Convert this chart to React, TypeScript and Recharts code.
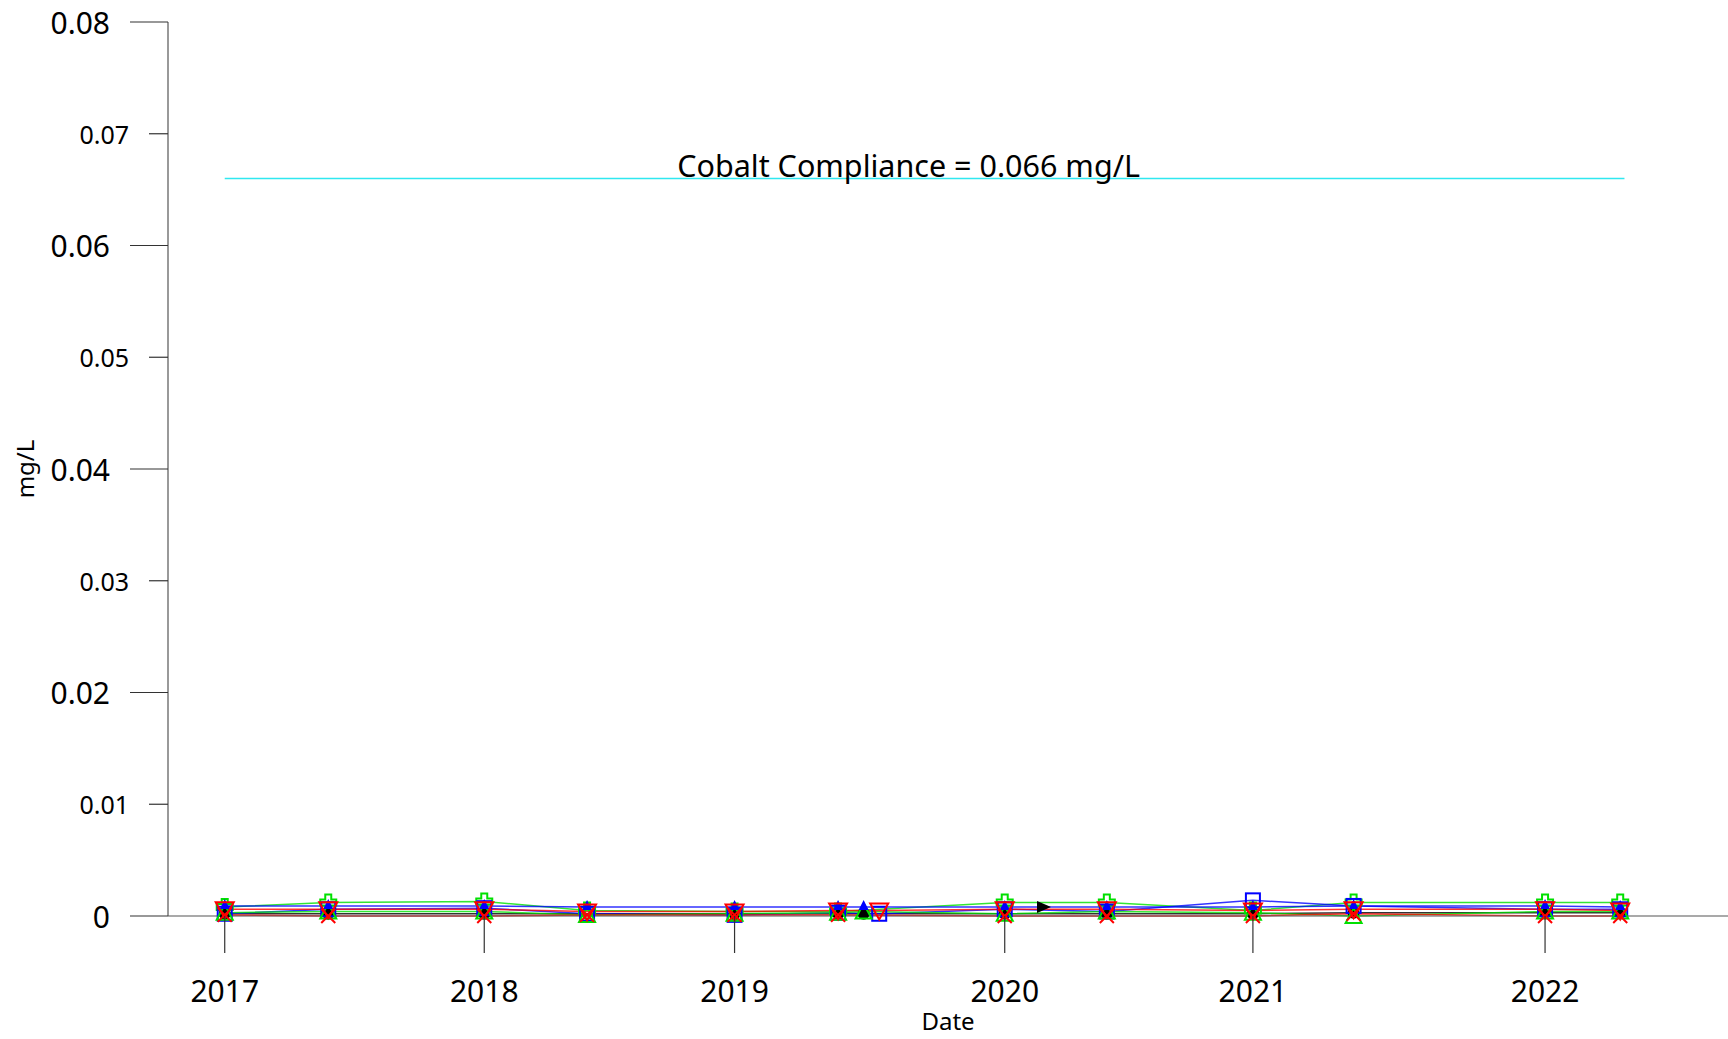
import { ComposedChart, Line, XAxis, YAxis, ReferenceLine } from "recharts";

// sample dates (one row per sampling event)
const sampleDates = [
  "2017-01-19", "2017-06-14", "2018-01-20", "2018-06-14", "2019-01-08",
  "2019-06-03", "2019-07-09", "2019-07-31", "2020-01-24", "2020-03-18",
  "2020-06-16", "2021-01-08", "2021-05-30", "2022-02-24", "2022-06-10",
];

const yearTickDates = ["2017-01-19", "2018-01-20", "2019-01-08", "2020-01-24", "2021-01-08", "2022-02-24"];
const yearLabels = ["2017", "2018", "2019", "2020", "2021", "2022"];

const yTicks = [0, 0.01, 0.02, 0.03, 0.04, 0.05, 0.06, 0.07, 0.08];

// cobalt results, mg/L (null = not sampled)
const wellGreenPlus = [0.0008, 0.0012, 0.0013, 0.0005, 0.0004, 0.0004, null, null, 0.0012, null, 0.0012, 0.0005, 0.0012, 0.0012, 0.0012];
const wellBlackCircle = [0.0002, 0.0002, 0.0002, null, 0.0002, 0.0002, 0.0002, null, 0.0002, null, 0.0002, 0.0002, 0.0003, 0.0003, 0.0003];
const wellBlueSquare = [0.0002, 0.0006, 0.0007, 0.0002, 0.0001, 0.0003, null, 0.0002, 0.0006, null, 0.0004, 0.0014, 0.0009, 0.0006, 0.0006];
const wellGreenTri = [0.0003, 0.0004, 0.0004, 0.0001, 0.0002, 0.0003, 0.0004, null, 0.0002, null, 0.0004, 0.0003, 0.0, 0.0004, 0.0004];
const wellBlueTri = [0.0009, 0.0009, 0.0009, 0.0008, 0.0008, 0.0008, 0.0008, null, 0.0008, null, 0.0008, 0.0008, 0.0009, 0.0009, 0.0008];
const wellRedX = [0.0001, 0.0, 0.0, 0.0001, 0.0001, 0.0001, null, null, 0.0, null, 0.0, 0.0, 0.0002, 0.0, 0.0];
const wellBlackArrow = [null, null, null, null, null, null, null, null, null, 0.0008, null, null, null, null, null];
const wellRedInvTri = [0.0006, 0.0006, 0.0006, 0.0004, 0.0004, 0.0005, null, 0.0005, 0.0006, null, 0.0006, 0.0005, 0.0006, 0.0006, 0.0005];

const complianceValue = 0.066;
const complianceSpan = ["2017-01-19", "2022-06-16"];
const xDomain = ["2016-10-31", "2022-11-09"];

const rows = sampleDates.map((d, i) => ({
  t: Date.parse(d),
  gp: wellGreenPlus[i],
  bc: wellBlackCircle[i],
  bs: wellBlueSquare[i],
  gt: wellGreenTri[i],
  bt: wellBlueTri[i],
  rx: wellRedX[i],
  ba: wellBlackArrow[i],
  ri: wellRedInvTri[i],
}));

const FONT = "'Noto Sans', sans-serif";

type Shape = "plus" | "circle" | "square" | "tri" | "smallTri" | "x" | "arrow" | "invTri";

function marker(shape: Shape, color: string) {
  return (p: any) => {
    const { cx, cy, index } = p;
    const k = `${shape}-${index}`;
    if (cx == null || cy == null || p.value == null) return <g key={k} />;
    switch (shape) {
      case "plus": {
        const s = 8, a = 3;
        const d = `M${cx - a},${cy - s}H${cx + a}V${cy - a}H${cx + s}V${cy + a}H${cx + a}V${cy + s}H${cx - a}V${cy + a}H${cx - s}V${cy - a}H${cx - a}Z`;
        return <path key={k} d={d} fill="none" stroke={color} strokeWidth={2} />;
      }
      case "circle":
        return <circle key={k} cx={cx} cy={cy} r={6} fill={color} />;
      case "square":
        return <rect key={k} x={cx - 7} y={cy - 7} width={14} height={14} fill="none" stroke={color} strokeWidth={2} />;
      case "tri":
        return <path key={k} d={`M${cx},${cy - 8}L${cx + 8},${cy + 7}L${cx - 8},${cy + 7}Z`} fill="none" stroke={color} strokeWidth={2} />;
      case "smallTri":
        return <path key={k} d={`M${cx},${cy - 7}L${cx + 5},${cy + 3}L${cx - 5},${cy + 3}Z`} fill={color} />;
      case "x":
        return (
          <path key={k} d={`M${cx - 7},${cy - 7}L${cx + 7},${cy + 7}M${cx + 7},${cy - 7}L${cx - 7},${cy + 7}`} stroke={color} strokeWidth={2} />
        );
      case "arrow":
        return <path key={k} d={`M${cx - 6},${cy - 6}L${cx + 8},${cy}L${cx - 6},${cy + 6}Z`} fill={color} />;
      case "invTri":
        return <path key={k} d={`M${cx - 9},${cy - 7}L${cx + 9},${cy - 7}L${cx},${cy + 9}Z`} fill="none" stroke={color} strokeWidth={2} />;
    }
    return <g key={k} />;
  };
}

const YTick = (p: any) => {
  const { x, y, payload } = p;
  const v: number = payload.value;
  const major = Math.round(v * 100) % 2 === 0;
  const len = major ? 38 : 19;
  return (
    <g>
      <line x1={x - len} x2={x} y1={y} y2={y} stroke="#333" strokeWidth={1.2} />
      <text
        x={x - len - 20}
        y={y}
        textAnchor="end"
        dominantBaseline="central"
        fontFamily={FONT}
        fontSize={major ? 30 : 25}
        fill="#000"
      >
        {v === 0 ? "0" : v.toFixed(2)}
      </text>
    </g>
  );
};

const XTick = (p: any) => {
  const { x, y, index } = p;
  return (
    <g>
      <line x1={x} x2={x} y1={y} y2={y + 37} stroke="#333" strokeWidth={1.2} />
      <text x={x} y={y + 74} textAnchor="middle" dominantBaseline="central" fontFamily={FONT} fontSize={30} fill="#000">
        {yearLabels[index]}
      </text>
    </g>
  );
};

const series: { key: string; color: string; shape: Shape }[] = [
  { key: "gp", color: "#00e000", shape: "plus" },
  { key: "bc", color: "#000000", shape: "circle" },
  { key: "bs", color: "#0000ff", shape: "square" },
  { key: "gt", color: "#00e000", shape: "tri" },
  { key: "bt", color: "#0000ff", shape: "smallTri" },
  { key: "rx", color: "#ff0000", shape: "x" },
  { key: "ba", color: "#000000", shape: "arrow" },
  { key: "ri", color: "#ff0000", shape: "invTri" },
];

export default function App() {
  return (
    <div style={{ position: "absolute", left: 0, top: 0, width: 1728, height: 1039, background: "#fff" }}>
      <ComposedChart width={1728} height={1039} data={rows} margin={{ top: 22, right: 0, left: 0, bottom: 0 }}>
        <XAxis
          dataKey="t"
          type="number"
          domain={xDomain.map((d) => Date.parse(d))}
          ticks={yearTickDates.map((d) => Date.parse(d))}
          allowDataOverflow
          height={123}
          tickSize={0}
          tickMargin={0}
          tick={<XTick />}
          axisLine={{ stroke: "#555", strokeWidth: 1.2 }}
          tickLine={false}
          interval={0}
          label={{
            content: (lp: any) => {
              const vb = lp.viewBox;
              return (
                <text x={vb.x + vb.width / 2} y={vb.y + 104} textAnchor="middle" dominantBaseline="central" fontFamily={FONT} fontSize={24} fill="#000">
                  Date
                </text>
              );
            },
          }}
        />
        <YAxis
          type="number"
          domain={[0, 0.08]}
          ticks={yTicks}
          width={168}
          tickSize={0}
          tickMargin={0}
          tick={<YTick />}
          tickLine={false}
          axisLine={{ stroke: "#555", strokeWidth: 1.2 }}
          interval={0}
          label={{
            content: (lp: any) => {
              const vb = lp.viewBox;
              const cy = vb.y + vb.height / 2;
              return (
                <text x={24} y={cy} transform={`rotate(-90 24 ${cy})`} textAnchor="middle" dominantBaseline="central" fontFamily={FONT} fontSize={24} fill="#000">
                  mg/L
                </text>
              );
            },
          }}
        />
        <ReferenceLine
          segment={[
            { x: Date.parse(complianceSpan[0]), y: complianceValue },
            { x: Date.parse(complianceSpan[1]), y: complianceValue },
          ]}
          stroke="#30e8f0"
          strokeWidth={1.5}
          label={{
            content: (lp: any) => {
              const vb = lp.viewBox;
              return (
                <text x={vb.x + vb.width / 2 - 16} y={vb.y - 13} textAnchor="middle" dominantBaseline="central" fontFamily={FONT} fontSize={30.5} fill="#000">
                  Cobalt Compliance = 0.066 mg/L
                </text>
              );
            },
          }}
        />
        {series.map((s) => (
          <Line
            key={s.key}
            dataKey={s.key}
            stroke={s.color}
            strokeWidth={1.5}
            strokeOpacity={0.8}
            connectNulls
            isAnimationActive={false}
            activeDot={false}
            dot={marker(s.shape, s.color)}
          />
        ))}
      </ComposedChart>
    </div>
  );
}
